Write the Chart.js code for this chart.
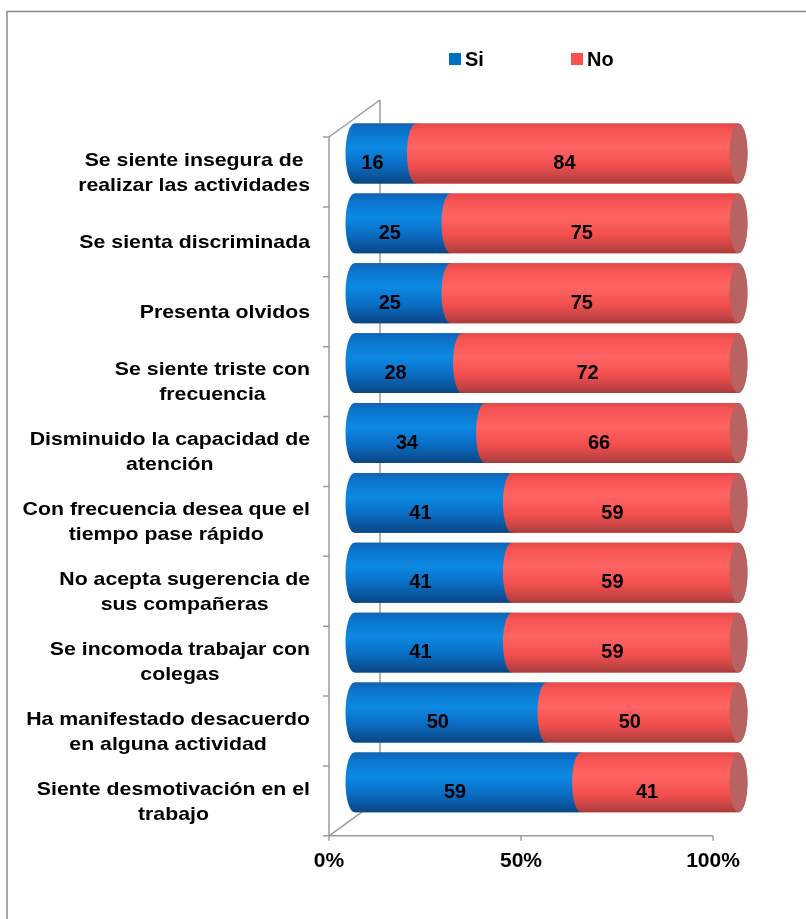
<!DOCTYPE html>
<html>
<head>
<meta charset="utf-8">
<script src="https://cdn.jsdelivr.net/npm/chart.js@4.4.1/dist/chart.umd.min.js"></script>
<style>
    html, body { margin: 0; padding: 0; background: #fff; }
    canvas { display: block; }
</style>
</head>
<body>
<canvas id="chart" width="806" height="919"></canvas>
<script>
// Categories, top to bottom
const CATEGORIES = [
    ['Se siente insegura de', 'realizar las actividades'],
    ['Se sienta discriminada'],
    ['Presenta olvidos'],
    ['Se siente triste con', 'frecuencia'],
    ['Disminuido la capacidad de', 'atención'],
    ['Con frecuencia desea que el', 'tiempo pase rápido'],
    ['No acepta sugerencia de', 'sus compañeras'],
    ['Se incomoda trabajar con', 'colegas'],
    ['Ha manifestado desacuerdo', 'en alguna actividad'],
    ['Siente desmotivación en el', 'trabajo']
];
const SERIES_NAMES = ['Si', 'No'];
const SI_VALUES = [16, 25, 25, 28, 34, 41, 41, 41, 50, 59];
const NO_VALUES = [84, 75, 75, 72, 66, 59, 59, 59, 50, 41];
const X_TICKS = [0, 50, 100];

const FONT = "'Liberation Sans', Arial, sans-serif";
const FRAME_COLOR = '#9c9c9c';

// 3D depth of the plot box; bars sit halfway back
const DEPTH = { dx: 51, dy: -37 };
const CAP_RX = 9;

const SERIES_STYLE = [
    {
        base: '#0070C0',
        stops: [[0, '#1262b2'], [0.12, '#0b74cc'], [0.4, '#0c89e2'], [0.7, '#0a6cc2'], [0.9, '#0a5298'], [1, '#0b4682']]
    },
    {
        base: '#FF5050',
        stops: [[0, '#e04a4a'], [0.12, '#f75454'], [0.4, '#ff6464'], [0.7, '#f24e4e'], [0.9, '#c44444'], [1, '#a93c3c']]
    }
];
const CAP_COLOR = '#b96262';

function drawFrame(chart) {
    const { ctx, chartArea } = chart;
    const xs = chart.scales.x;
    const left = chartArea.left, bottom = chartArea.bottom, top = chartArea.top;
    const right = xs.getPixelForValue(100);

    ctx.save();
    ctx.strokeStyle = FRAME_COLOR;
    ctx.lineWidth = 1.5;
    ctx.beginPath();
    // back wall edge
    ctx.moveTo(left + DEPTH.dx, top + DEPTH.dy);
    ctx.lineTo(left + DEPTH.dx, bottom + DEPTH.dy);
    // top and bottom side edges
    ctx.moveTo(left, top);
    ctx.lineTo(left + DEPTH.dx, top + DEPTH.dy);
    ctx.moveTo(left, bottom);
    ctx.lineTo(left + DEPTH.dx, bottom + DEPTH.dy);
    // front axes
    ctx.moveTo(left, top);
    ctx.lineTo(left, bottom);
    ctx.lineTo(right, bottom);
    // category ticks
    const n = CATEGORIES.length;
    for (let k = 0; k <= n; k++) {
        const y = top + (bottom - top) * k / n;
        ctx.moveTo(left - 6, y);
        ctx.lineTo(left, y);
    }
    // value ticks
    X_TICKS.forEach(v => {
        const x = xs.getPixelForValue(v);
        ctx.moveTo(x, bottom);
        ctx.lineTo(x, bottom + 5);
    });
    ctx.stroke();
    ctx.restore();
}

function cylinderPath(ctx, x0, x1, y, h) {
    const ry = h / 2;
    ctx.beginPath();
    ctx.moveTo(x0, y - ry);
    ctx.lineTo(x1, y - ry);
    ctx.ellipse(x1, y, CAP_RX, ry, 0, -Math.PI / 2, Math.PI / 2, false);
    ctx.lineTo(x0, y + ry);
    ctx.ellipse(x0, y, CAP_RX, ry, 0, Math.PI / 2, Math.PI * 1.5, false);
    ctx.closePath();
}

const cylinderPlugin = {
    id: 'cylinders',
    beforeDraw(chart) {
        const ctx = chart.ctx;
        ctx.save();
        ctx.fillStyle = '#fff';
        ctx.fillRect(0, 0, chart.width, chart.height);
        ctx.strokeStyle = '#8a8a8a';
        ctx.lineWidth = 1.5;
        ctx.strokeRect(7, 11.5, chart.width + 20, chart.height + 20);
        ctx.restore();
    },
    beforeDatasetsDraw(chart) {
        drawFrame(chart);
        chart.ctx.save();
        chart.ctx.translate(DEPTH.dx / 2, DEPTH.dy / 2);
    },
    afterDatasetsDraw(chart) {
        const ctx = chart.ctx;
        const last = chart.data.datasets.length - 1;
        chart.data.datasets.forEach((ds, di) => {
            const style = SERIES_STYLE[di];
            chart.getDatasetMeta(di).data.forEach(el => {
                const { x, y, base, height } = el.getProps(['x', 'y', 'base', 'height'], true);
                const grad = ctx.createLinearGradient(0, y - height / 2, 0, y + height / 2);
                style.stops.forEach(([o, c]) => grad.addColorStop(o, c));
                cylinderPath(ctx, base, x, y, height);
                ctx.fillStyle = grad;
                ctx.fill();
                if (di === last) {
                    ctx.beginPath();
                    ctx.ellipse(x, y, CAP_RX, height / 2, 0, 0, Math.PI * 2);
                    ctx.fillStyle = CAP_COLOR;
                    ctx.fill();
                }
            });
        });
        ctx.restore();
    },
    afterDraw(chart) {
        const ctx = chart.ctx;
        const ys = chart.scales.y;
        ctx.save();
        ctx.fillStyle = '#000';

        // value labels, halfway between front plane and bar plane
        ctx.font = `bold 20px ${FONT}`;
        ctx.textAlign = 'center';
        ctx.textBaseline = 'middle';
        chart.data.datasets.forEach((ds, di) => {
            chart.getDatasetMeta(di).data.forEach((el, i) => {
                const { x, y, base } = el.getProps(['x', 'y', 'base'], true);
                ctx.fillText(String(ds.data[i]), (x + base) / 2 + DEPTH.dx / 4, y + DEPTH.dy / 4 + 1);
            });
        });

        // category labels: right-aligned blocks, centred lines
        const sx = 1.12;
        const rightEdge = chart.chartArea.left - 19;
        ctx.font = `bold 19px ${FONT}`;
        CATEGORIES.forEach((lines, i) => {
            const cy = ys.getPixelForValue(i);
            const blockW = Math.max(...lines.map(l => ctx.measureText(l).width)) * sx;
            const cx = rightEdge - blockW / 2;
            lines.forEach((line, j) => {
                const ly = cy + (j - (lines.length - 1) / 2) * 25 + 1;
                ctx.save();
                ctx.translate(cx, ly);
                ctx.scale(sx, 1);
                ctx.fillText(line, 0, 0);
                ctx.restore();
            });
        });

        // legend
        ctx.font = `bold 20px ${FONT}`;
        ctx.textAlign = 'left';
        const legendX = [449, 571];
        chart.data.datasets.forEach((ds, di) => {
            const lx = legendX[di];
            ctx.fillStyle = ds.backgroundColor;
            ctx.fillRect(lx, 53, 12, 12);
            ctx.fillStyle = '#000';
            ctx.fillText(ds.label, lx + 16, 60);
        });
        ctx.restore();
    }
};

new Chart(document.getElementById('chart'), {
    type: 'bar',
    data: {
        labels: CATEGORIES,
        datasets: [
            {
                label: SERIES_NAMES[0],
                data: SI_VALUES,
                backgroundColor: SERIES_STYLE[0].base,
                barPercentage: 0.857,
                categoryPercentage: 1,
                clip: false
            },
            {
                label: SERIES_NAMES[1],
                data: NO_VALUES,
                backgroundColor: SERIES_STYLE[1].base,
                barPercentage: 0.857,
                categoryPercentage: 1,
                clip: false
            }
        ]
    },
    options: {
        indexAxis: 'y',
        responsive: false,
        animation: false,
        layout: { padding: { left: 329, right: 93, top: 137, bottom: 32 } },
        plugins: {
            legend: { display: false },
            tooltip: { enabled: false }
        },
        scales: {
            x: {
                stacked: true,
                min: 0,
                max: 100,
                afterBuildTicks: scale => { scale.ticks = X_TICKS.map(v => ({ value: v })); },
                grid: { display: false, drawTicks: false },
                border: { display: false },
                ticks: {
                    padding: 13,
                    color: '#000',
                    font: { family: FONT, size: 21, weight: 'bold' },
                    callback: v => v + '%'
                }
            },
            y: {
                stacked: true,
                display: false
            }
        }
    },
    plugins: [cylinderPlugin]
});
</script>
</body>
</html>
